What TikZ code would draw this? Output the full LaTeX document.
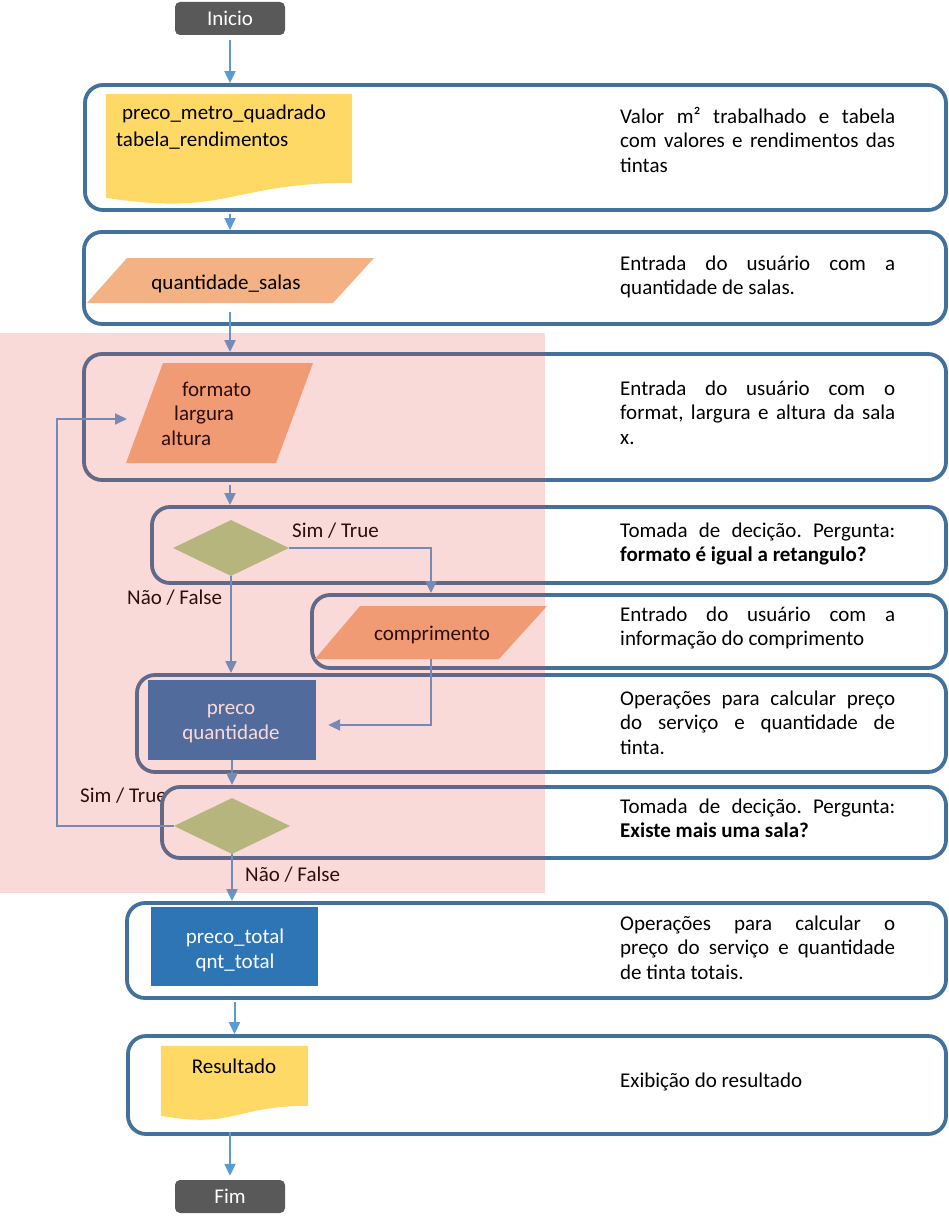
\documentclass[tikz,border=0pt]{standalone}
\usepackage{fontspec}
\setmainfont{Carlito}
\usetikzlibrary{shapes.geometric,arrows.meta,calc}

\definecolor{frameblue}{HTML}{41719C}
\definecolor{flowblue}{HTML}{5B9BD5}
\definecolor{docyellow}{HTML}{FFD966}
\definecolor{inorange}{HTML}{F4B183}
\definecolor{decgreen}{HTML}{A9D18E}
\definecolor{procblue}{HTML}{2E75B6}
\definecolor{termgray}{HTML}{595959}
\definecolor{loopred}{RGB}{230,70,60}

\tikzset{
  every node/.style={font=\fontsize{21}{24.5}\selectfont},
  grp/.style={draw=frameblue, line width=3.8pt, rounded corners=18pt, fill=white, inner sep=0pt},
  term/.style={fill=termgray, text=white, rounded corners=5pt, minimum width=110pt, minimum height=33pt, inner sep=0pt},
  desc/.style={text width=275pt, align=justify, inner sep=0pt, anchor=base west,
    execute at begin node={\frenchspacing\hyphenpenalty=10000\exhyphenpenalty=10000}},
  lbl/.style={inner sep=0pt, anchor=base west},
  txt/.style={inner sep=0pt, align=center},
  decision/.style={diamond, fill=decgreen, minimum width=116pt, minimum height=56pt, inner sep=0pt},
  proc/.style={fill=procblue, inner sep=0pt},
  hold/.style={inner sep=0pt},
  flow/.style={draw=flowblue, line width=2pt, -{Triangle[length=12pt,width=11pt]}},
}

\begin{document}
\begin{tikzpicture}[x=1pt,y=-1pt]
\useasboundingbox (0,0) rectangle (949,1223);

% label partly hidden behind the last decision frame
\node[lbl] (simB) at (80,802) {Sim / True};

% group frames
\node[grp, minimum width=861pt, minimum height=125pt] (g1) at (515.5,147.5) {};
\node[grp, minimum width=862pt, minimum height=92pt]  (g2) at (515,278) {};
\node[grp, minimum width=862pt, minimum height=126pt] (g3) at (515,417) {};
\node[grp, minimum width=794pt, minimum height=76pt]  (g4) at (549,545) {};
\node[grp, minimum width=634pt, minimum height=73pt]  (g5) at (629,631.5) {};
\node[grp, minimum width=809pt, minimum height=97pt]  (g6) at (541.5,723.5) {};
\node[grp, minimum width=784pt, minimum height=71pt]  (g7) at (554,822.5) {};
\node[grp, minimum width=819pt, minimum height=95pt]  (g8) at (536.5,950.5) {};
\node[grp, minimum width=818pt, minimum height=98pt]  (g9) at (537,1085) {};

% terminals
\node[term] (ini) at (230,18.5) {Inicio};
\node[term] (fim) at (230,1196.5) {Fim};

% document: constants
\node[hold, minimum width=246pt, minimum height=111pt] (doc1) at (229,149.5) {};
\fill[docyellow] (doc1.north west) -- (doc1.north east) -- ($(doc1.north east)+(0,89)$)
  .. controls ($(doc1.north)+(0,89)$) and ($(doc1.north)+(0,123)$) .. ($(doc1.north west)+(0,104)$) -- cycle;
\node[lbl, align=left] (doc1txt) at (116,146) {\hspace*{6pt}preco\_metro\_quadrado\\[2.5pt]tabela\_rendimentos};

% input: number of rooms
\fill[inorange] (127,258) -- (374,258) -- (333,303) -- (87,303) -- cycle;
\node[hold, minimum width=287pt, minimum height=45pt] (qs) at (230.5,280.5) {};
\node[txt] (qstxt) at (226,284) {quantidade\_salas};

% input: shape, width, height
\fill[inorange] (163,363) -- (313,363) -- (276,463) -- (126,463) -- cycle;
\node[hold, minimum width=187pt, minimum height=100pt] (fmt) at (219.5,413) {};
\node[lbl, align=left] (fmttxt) at (161,445) {\hspace*{21pt}formato\\\hspace*{13pt}largura\\altura};

% decision: rectangle?
\node[decision] (d1) at (231,548) {};

% input: length
\fill[inorange] (360,606) -- (547,606) -- (499,659) -- (315,659) -- cycle;
\node[hold, minimum width=232pt, minimum height=53pt] (comp) at (431,632.5) {};
\node[txt] (comptxt) at (432,635) {comprimento};

% process: price and amount per room
\node[proc, minimum width=168pt, minimum height=80pt] (pq) at (232,720) {};
\node[txt, text=white] (pqtxt) at (231,723.5) {preco\\quantidade};

% decision: another room?
\node[decision] (d2) at (232,826) {};

% process: totals
\node[proc, minimum width=167pt, minimum height=79pt] (pt) at (234.5,946.5) {};
\node[txt, text=white] (pttxt) at (235,950.5) {preco\_total\\qnt\_total};

% document: result
\node[hold, minimum width=147pt, minimum height=75pt] (doc2) at (234.5,1083.5) {};
\fill[docyellow] (doc2.north west) -- (doc2.north east) -- ($(doc2.north east)+(0,60)$)
  .. controls ($(doc2.north)+(0,60)$) and ($(doc2.north)+(0,83)$) .. ($(doc2.north west)+(0,70)$) -- cycle;
\node[txt] (restxt) at (234,1066) {Resultado};

% descriptions
\node[desc] (t1) at (620,123) {Valor m² trabalhado e tabela\linebreak com valores e rendimentos das\linebreak tintas};
\node[desc] (t2) at (620,270) {Entrada do usuário com a\linebreak quantidade de salas.};
\node[desc] (t3) at (620,395) {Entrada do usuário com o\linebreak format, largura e altura da sala\linebreak x.};
\node[desc] (t4) at (620,537) {Tomada de decição. Pergunta:\linebreak \textbf{formato é igual a retangulo?}};
\node[desc] (t5) at (620,621) {Entrado do usuário com a\linebreak informação do comprimento};
\node[desc] (t6) at (620,705) {Operações para calcular preço\linebreak do serviço e quantidade de\linebreak tinta.};
\node[desc] (t7) at (620,813) {Tomada de decição. Pergunta:\linebreak \textbf{Existe mais uma sala?}};
\node[desc] (t8) at (620,930) {Operações para calcular o\linebreak preço do serviço e quantidade\linebreak de tinta totais.};
\node[desc] (t9) at (620,1087) {Exibição do resultado};

% connectors
\draw[flow, shorten <=5pt] (ini.south) -- (ini.south |- g1.north);
\draw[flow] ($(g1.south -| ini)+(0,2)$) -- (g2.north -| ini);
\draw[flow] ($(g2.south -| ini)+(0,-14)$) -- (g3.north -| ini);
\draw[flow] ($(g3.south -| ini)+(0,3)$) -- (g4.north -| ini);
\draw[flow] (d1.east) -| (g5.north -| comp);
\draw[flow] (d1.south) -- (g6.north -| d1);
\draw[flow] (comp.south) |- ($(pq.east)+(12,5)$);
\draw[flow] (pq.south) -- (g7.north -| pq);
\coordinate (loopin) at (127,419);
\draw[flow] (d2.west) -| (57,419) -- (loopin);
\draw[flow] (d2.south) -- (g8.north -| d2);
\draw[flow] ($(g8.south -| pt)+(0,2)$) -- (g9.north -| pt);
\draw[flow] ($(g9.south -| fim)+(0,-4)$) -- ($(fim.north)+(0,-4)$);

% branch labels
\node[lbl] (simA) at (292,537) {Sim / True};
\node[lbl] (naoA) at (127,604) {Não / False};
\node[lbl] (naoB) at (245,881) {Não / False};

% loop region highlight
\fill[loopred, opacity=0.2] (0,333) rectangle (545,893);
\end{tikzpicture}
\end{document}
